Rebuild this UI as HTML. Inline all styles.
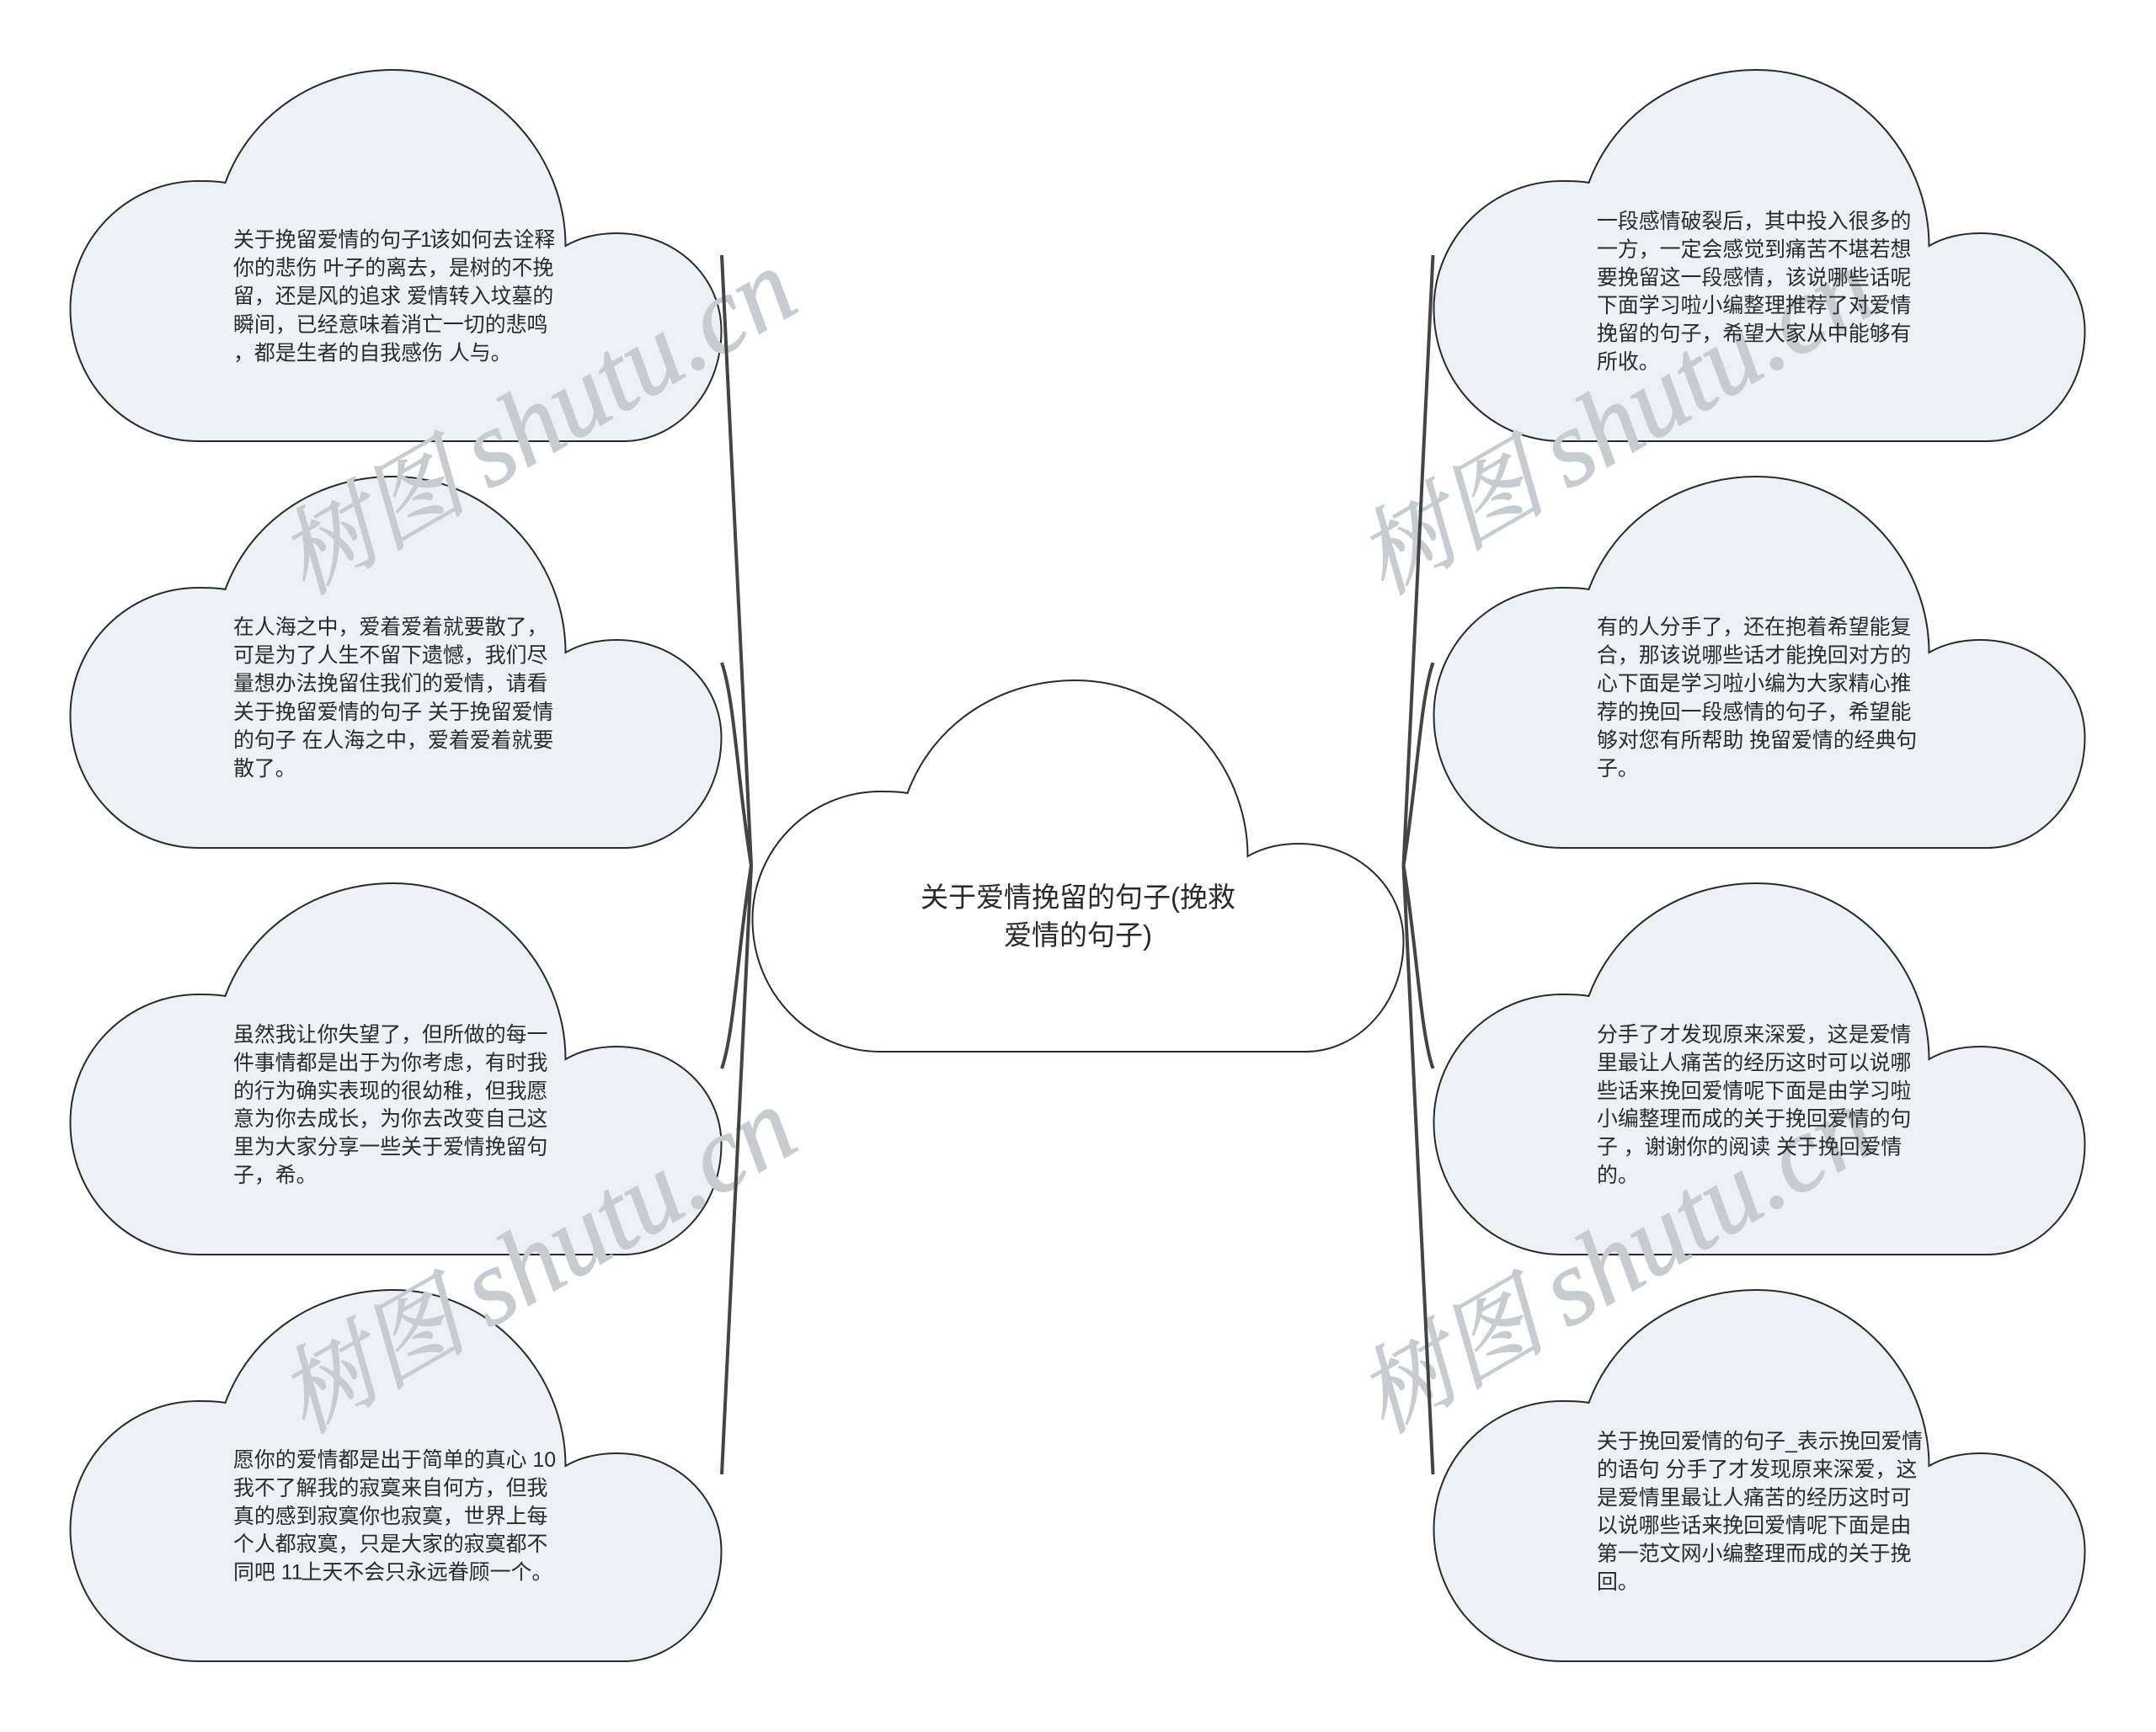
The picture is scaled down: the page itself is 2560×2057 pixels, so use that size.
<!DOCTYPE html>
<html lang="zh">
<head>
<meta charset="utf-8">
<title>关于爱情挽留的句子</title>
<style>
html,body{margin:0;padding:0;background:#fff;width:2560px;height:2057px;overflow:hidden}
svg{display:block}
.t{font-family:"Liberation Sans","Noto Sans CJK SC",sans-serif;font-size:24.9px;fill:#2a2a2a;white-space:pre}
.c{font-family:"Liberation Sans","Noto Sans CJK SC",sans-serif;font-size:33px;fill:#2a2a2a;text-anchor:middle;white-space:pre}
.w{font-family:"Liberation Serif","Noto Serif CJK SC",serif;font-style:italic;font-size:113px;fill:#c8ccd0;stroke:#c8ccd0;stroke-width:1.2;white-space:pre}
.w tspan{font-size:128px}
.l{fill:none;stroke:#444;stroke-width:4}
</style>
</head>
<body>
<svg width="2560" height="2057" viewBox="0 0 2560 2057" xmlns="http://www.w3.org/2000/svg">
<defs>
<path id="cl" d="M184,134 C215,50 295,0 383,0 C500,0 588,100 588,209 C607,198 628,194 649,194 C718,194 773,245 773,310 C773,385 718,441 657,441 L152,441 C68,441 0,372 0,284 C0,200 68,132 152,132 C163,132 174,132 184,134 Z"/>
</defs>
<g fill="#edf1f5" stroke="#2a2a2a" stroke-width="2">
<use href="#cl" x="83.5" y="83"/>
<use href="#cl" x="83.5" y="566"/>
<use href="#cl" x="83.5" y="1049"/>
<use href="#cl" x="83.5" y="1532"/>
<use href="#cl" x="1702.5" y="83"/>
<use href="#cl" x="1702.5" y="566"/>
<use href="#cl" x="1702.5" y="1049"/>
<use href="#cl" x="1702.5" y="1532"/>
<use href="#cl" x="893.5" y="808" fill="#fff"/>
</g>
<g>
<text class="w" transform="translate(362,708) rotate(-30)">树图<tspan dx="26">shutu.cn</tspan></text>
<text class="w" transform="translate(1643,708) rotate(-30)">树图<tspan dx="26">shutu.cn</tspan></text>
<text class="w" transform="translate(362,1704) rotate(-30)">树图<tspan dx="26">shutu.cn</tspan></text>
<text class="w" transform="translate(1643,1704) rotate(-30)">树图<tspan dx="26">shutu.cn</tspan></text>
</g>
<g class="l">
<path d="M857,303 C865,500 878,700 892,1028"/>
<path d="M857,787 C872,830 876,930 892,1028"/>
<path d="M857,1269 C872,1226 876,1126 892,1028"/>
<path d="M857,1751 C865,1556 878,1356 892,1028"/>
<path d="M1701.5,303 C1693.5,500 1680.5,700 1666.5,1028"/>
<path d="M1701.5,787 C1686.5,830 1682.5,930 1666.5,1028"/>
<path d="M1701.5,1269 C1686.5,1226 1682.5,1126 1666.5,1028"/>
<path d="M1701.5,1751 C1693.5,1556 1680.5,1356 1666.5,1028"/>
</g>
<g>
<text class="c" x="1280" y="1077">关于爱情挽留的句子(挽救</text>
<text class="c" x="1280" y="1122">爱情的句子)</text>
</g>
<g>
<text class="t" x="277" y="293">关于挽留爱情的句子<tspan dx="-2">1</tspan><tspan dx="-3">该如何去诠释</tspan></text>
<text class="t" x="277" y="326.6">你的悲伤 叶子的离去，是树的不挽</text>
<text class="t" x="277" y="360.2">留，还是风的追求 爱情转入坟墓的</text>
<text class="t" x="277" y="393.8">瞬间，已经意味着消亡一切的悲鸣</text>
<text class="t" x="277" y="427.4">，都是生者的自我感伤 人与。</text>

<text class="t" x="277" y="753">在人海之中，爱着爱着就要散了，</text>
<text class="t" x="277" y="786.6">可是为了人生不留下遗憾，我们尽</text>
<text class="t" x="277" y="820.2">量想办法挽留住我们的爱情，请看</text>
<text class="t" x="277" y="853.8">关于挽留爱情的句子 关于挽留爱情</text>
<text class="t" x="277" y="887.4">的句子 在人海之中，爱着爱着就要</text>
<text class="t" x="277" y="921">散了。</text>

<text class="t" x="277" y="1237">虽然我让你失望了，但所做的每一</text>
<text class="t" x="277" y="1270.4">件事情都是出于为你考虑，有时我</text>
<text class="t" x="277" y="1303.8">的行为确实表现的很幼稚，但我愿</text>
<text class="t" x="277" y="1337.2">意为你去成长，为你去改变自己这</text>
<text class="t" x="277" y="1370.6">里为大家分享一些关于爱情挽留句</text>
<text class="t" x="277" y="1404">子，希。</text>

<text class="t" x="277" y="1742">愿你的爱情都是出于简单的真心 10</text>
<text class="t" x="277" y="1775.4">我不了解我的寂寞来自何方，但我</text>
<text class="t" x="277" y="1808.8">真的感到寂寞你也寂寞，世界上每</text>
<text class="t" x="277" y="1842.2">个人都寂寞，只是大家的寂寞都不</text>
<text class="t" x="277" y="1875.6">同吧 11<tspan dx="-2">上天不会只永远眷顾一个。</tspan></text>

<text class="t" x="1896" y="271">一段感情破裂后，其中投入很多的</text>
<text class="t" x="1896" y="304.4">一方，一定会感觉到痛苦不堪若想</text>
<text class="t" x="1896" y="337.8">要挽留这一段感情，该说哪些话呢</text>
<text class="t" x="1896" y="371.2">下面学习啦小编整理推荐了对爱情</text>
<text class="t" x="1896" y="404.6">挽留的句子，希望大家从中能够有</text>
<text class="t" x="1896" y="438">所收。</text>

<text class="t" x="1896" y="753">有的人分手了，还在抱着希望能复</text>
<text class="t" x="1896" y="786.6">合，那该说哪些话才能挽回对方的</text>
<text class="t" x="1896" y="820.2">心下面是学习啦小编为大家精心推</text>
<text class="t" x="1896" y="853.8">荐的挽回一段感情的句子，希望能</text>
<text class="t" x="1896" y="887.4">够对您有所帮助 挽留爱情的经典句</text>
<text class="t" x="1896" y="921">子。</text>

<text class="t" x="1896" y="1237">分手了才发现原来深爱，这是爱情</text>
<text class="t" x="1896" y="1270.4">里最让人痛苦的经历这时可以说哪</text>
<text class="t" x="1896" y="1303.8">些话来挽回爱情呢下面是由学习啦</text>
<text class="t" x="1896" y="1337.2">小编整理而成的关于挽回爱情的句</text>
<text class="t" x="1896" y="1370.6">子 ，谢谢你的阅读 关于挽回爱情</text>
<text class="t" x="1896" y="1404">的。</text>

<text class="t" x="1896" y="1720">关于挽回爱情的句子_表示挽回爱情</text>
<text class="t" x="1896" y="1753.4">的语句 分手了才发现原来深爱，这</text>
<text class="t" x="1896" y="1786.8">是爱情里最让人痛苦的经历这时可</text>
<text class="t" x="1896" y="1820.2">以说哪些话来挽回爱情呢下面是由</text>
<text class="t" x="1896" y="1853.6">第一范文网小编整理而成的关于挽</text>
<text class="t" x="1896" y="1887">回。</text>
</g>
</svg>
</body>
</html>
